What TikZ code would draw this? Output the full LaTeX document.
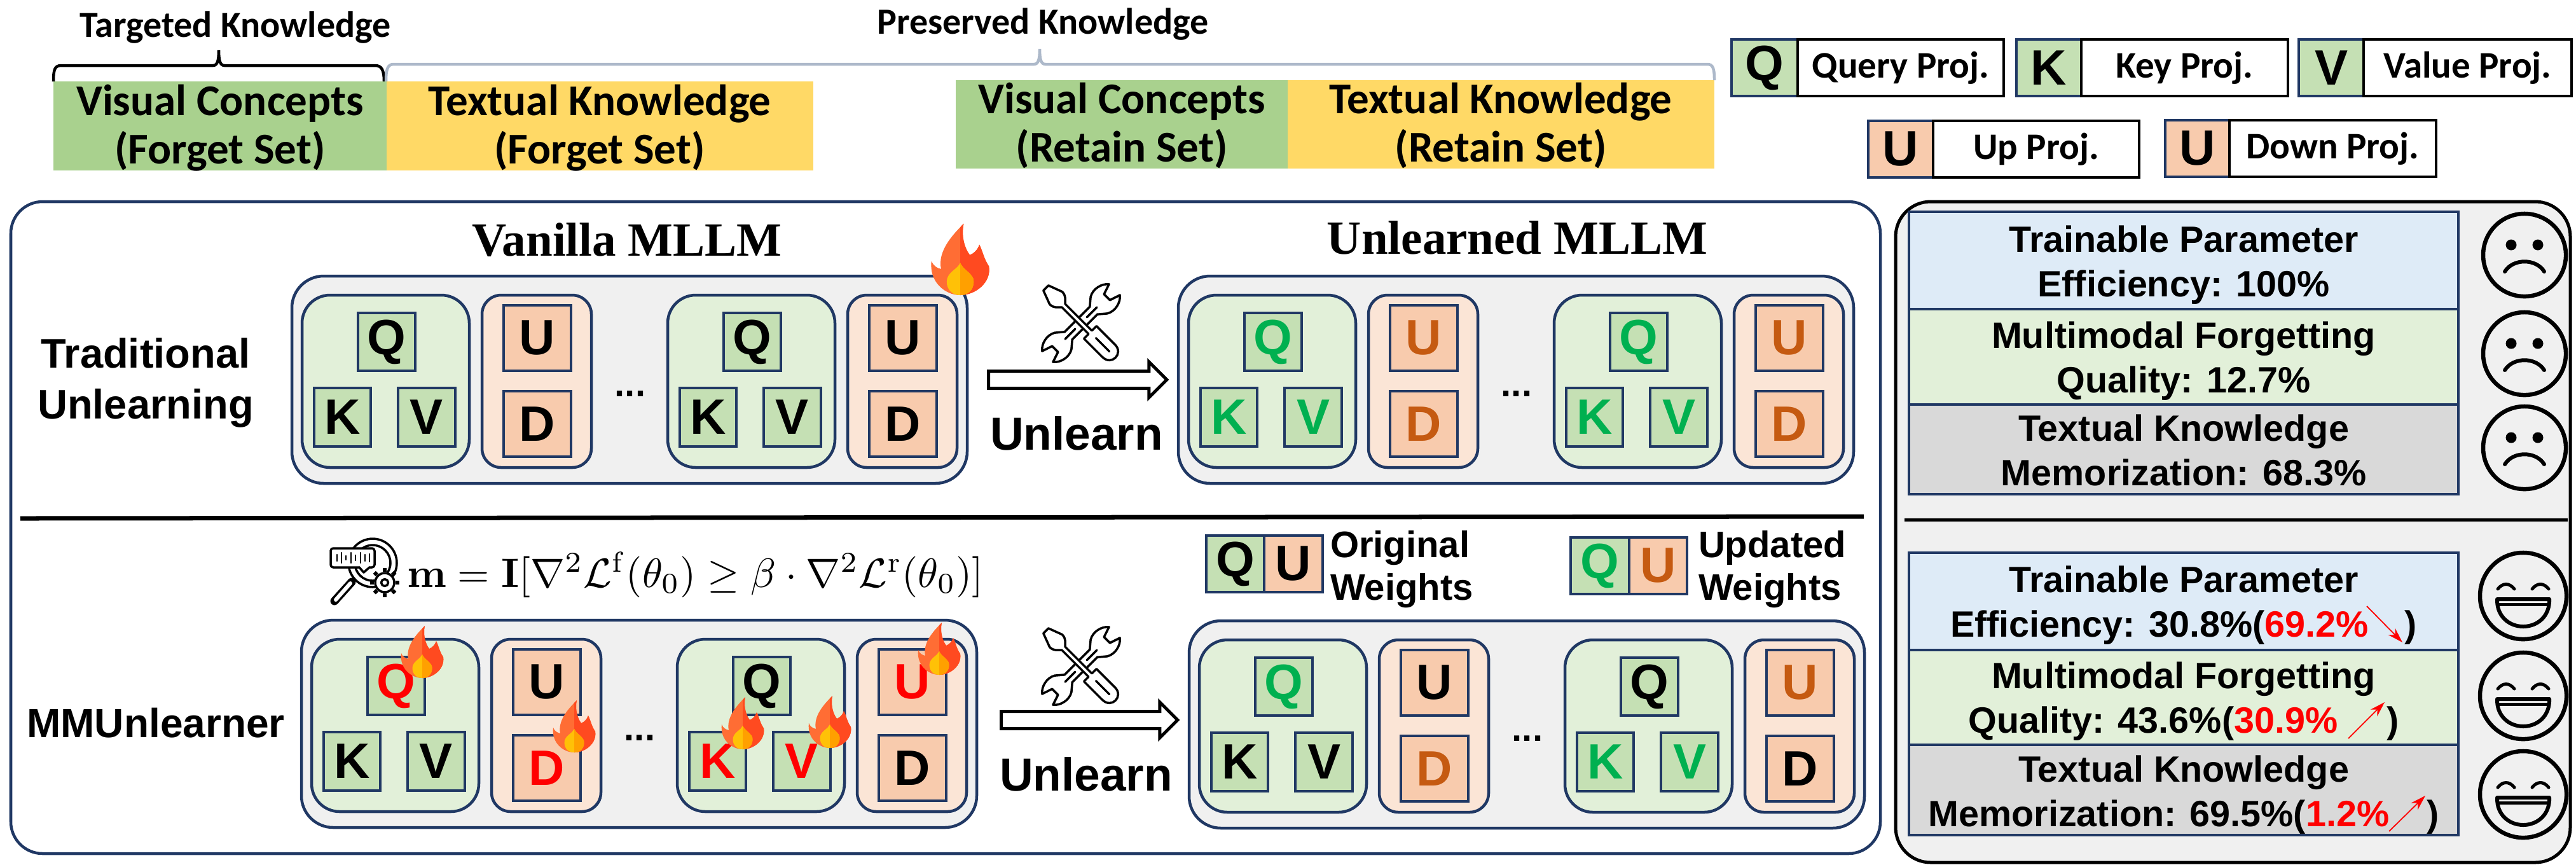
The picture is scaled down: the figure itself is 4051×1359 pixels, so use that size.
\documentclass[tikz,border=0pt]{standalone}
\usepackage[no-math]{fontspec}
\setmainfont{Liberation Sans}
\newfontfamily\calfont{Carlito}
\newfontfamily\serfont{Liberation Serif}
\usetikzlibrary{arrows.meta,shapes.arrows}
\definecolor{navy}{HTML}{203864}
\definecolor{gA}{HTML}{A9D18E}
\definecolor{yA}{HTML}{FFD966}
\definecolor{gB}{HTML}{C5E0B4}
\definecolor{gC}{HTML}{E2F0D9}
\definecolor{pB}{HTML}{F8CBAD}
\definecolor{pC}{HTML}{FBE5D6}
\definecolor{panel}{HTML}{F0F0F0}
\definecolor{blueC}{HTML}{DEEBF7}
\definecolor{greyC}{HTML}{D9D9D9}
\definecolor{braceB}{HTML}{ADB9CA}
\definecolor{okG}{HTML}{00B050}
\definecolor{okO}{HTML}{C55A11}
\definecolor{flA}{HTML}{FF6D34}
\definecolor{flB}{HTML}{FF4A20}
\definecolor{flC}{HTML}{FFC107}
\definecolor{flD}{HTML}{FFA000}
\newcommand\fpx[2]{\fontsize{\the\dimexpr#1pt*2845/10000\relax}{\the\dimexpr#2pt*2845/10000\relax}\selectfont}
% [style]{name}{x1}{y1}{x2}{y2}{text}
\newcommand\pxbox[7][]{\node[#1,minimum width={((#5)-(#3))*0.01cm},minimum height={((#6)-(#4))*0.01cm}] (#2) at ({((#3)+(#5))/2},{((#4)+(#6))/2}) {#7};}
% one block of a model: prefix, x0, y0, colours of Q K V U D
\newcommand\mblock[8]{%
  \pxbox[greenpane]{#1g}{#2+16}{#3+30}{#2+279}{#3+301}{}
  \pxbox[peachpane]{#1p}{#2+299}{#3+30}{#2+471}{#3+301}{}
  \pxbox[gbox,text=#4]{#1q}{#2+104}{#3+58}{#2+194}{#3+149}{Q}
  \pxbox[gbox,text=#5]{#1k}{#2+35}{#3+176}{#2+124}{#3+268}{K}
  \pxbox[gbox,text=#6]{#1v}{#2+167}{#3+176}{#2+257}{#3+268}{V}
  \pxbox[pbox,text=#7]{#1u}{#2+333}{#3+46}{#2+439}{#3+149}{U}
  \pxbox[pbox,text=#8]{#1d}{#2+333}{#3+181}{#2+439}{#3+284}{D}
}
\newcommand\mouter[3]{%
  \pxbox[outerbox]{#1}{#2}{#3}{#2+1062}{#3+326}{}
  \node[dotstxt] (#1dots) at ({#2+532},{#3+189}) {...};
}
% name, top, bottom, fill, midline between baselines, two lines
\newcommand\tbl[7]{%
  \pxbox[tblbox,fill=#4]{#1}{3002}{#2}{3866}{#3}{}
  \node[tbltext] (#1t) at (3434,{#5-14}) {\strut #6\\\strut #7};
}
\newcommand\sadface[3]{%
  \node[facering] (#1) at (#2,#3) {};
  \fill ({#2-21},{#3-16}) circle (8.5);
  \fill ({#2+21},{#3-16}) circle (8.5);
  \draw[line width=0.06cm,line cap=round] ({#2-31},{#3+26}) .. controls ({#2-18},{#3+5}) and ({#2+18},{#3+5}) .. ({#2+31},{#3+26});
}
\newcommand\happyface[3]{%
  \node[facering,minimum size=1.36cm] (#1) at (#2,#3) {};
  \draw[line width=0.05cm,line cap=round] ({#2-40},{#3-11}) .. controls ({#2-32},{#3-21}) and ({#2-22},{#3-21}) .. ({#2-14},{#3-11});
  \draw[line width=0.05cm,line cap=round] ({#2+14},{#3-11}) .. controls ({#2+22},{#3-21}) and ({#2+32},{#3-21}) .. ({#2+40},{#3-11});
  \draw[line width=0.06cm,line join=round] ({#2-41},{#3+5}) -- ({#2+41},{#3+5}) .. controls ({#2+42},{#3+32}) and ({#2+22},{#3+48}) .. ({#2},{#3+48}) .. controls ({#2-22},{#3+48}) and ({#2-42},{#3+32}) .. ({#2-41},{#3+5}) -- cycle;
  \draw[line width=0.05cm] ({#2-41},{#3+13}) -- ({#2+41},{#3+13});
}
\def\flamepath{(0,0) .. controls (-18,0) and (-36,-16) .. (-33,-39) .. controls (-31,-34) and (-27,-31) .. (-22,-30) .. controls (-26,-50) and (-10,-68) .. (4,-82) .. controls (1,-68) and (5,-54) .. (11,-46) .. controls (16,-48) and (20,-52) .. (22,-58) .. controls (26,-50) and (27,-42) .. (33,-33) .. controls (36,-15) and (18,0) .. (0,0) -- cycle}
\def\innerflame{(0,0) .. controls (-12,0) and (-17,-10) .. (-15,-19) .. controls (-12,-28) and (-3,-30) .. (0,-37) .. controls (3,-30) and (12,-26) .. (15,-19) .. controls (17,-10) and (12,0) .. (0,0) -- cycle}
\tikzset{
  px/.style={inner sep=0pt,outer sep=0pt},
  outerbox/.style={px,draw=navy,line width=0.045cm,fill=panel,rounded corners=0.5cm},
  greenpane/.style={px,draw=navy,line width=0.045cm,fill=gC,rounded corners=0.44cm},
  peachpane/.style={px,draw=navy,line width=0.045cm,fill=pC,rounded corners=0.3cm},
  letterfont/.style={font=\bfseries\fpx{78}{90}},
  gbox/.style={px,draw=navy,line width=0.045cm,fill=gB,letterfont},
  pbox/.style={px,draw=navy,line width=0.045cm,fill=pB,letterfont},
  whitebox/.style={px,draw=black,line width=0.045cm,fill=white,font=\calfont\bfseries\fpx{59}{70}},
  dotstxt/.style={px,anchor=base,font=\bfseries\fpx{58}{70}},
  bartext/.style={px,align=center,font=\calfont\bfseries\fpx{69}{71}},
  bar/.style={px},
  toptext/.style={px,anchor=base,font=\calfont\bfseries\fpx{58}{70}},
  title/.style={px,anchor=base,font=\serfont\bfseries\fpx{75}{80}},
  rowlabel/.style={px,align=center,font=\bfseries\fpx{65}{80}},
  unlearn/.style={px,anchor=base,font=\bfseries\fpx{73}{80}},
  legtext/.style={px,anchor=base west,font=\bfseries\fpx{58}{70}},
  tblbox/.style={px,draw=navy,line width=0.045cm},
  tbltext/.style={px,align=center,font=\bfseries\fpx{57.5}{70}},
  facering/.style={px,circle,draw=black,line width=0.065cm,minimum size=1.3cm},
  bigarrow/.style={px,single arrow,draw=black,fill=white,line width=0.05cm,inner sep=0.11cm,
     single arrow head extend=0.145cm,minimum width=0.51cm},
  redarrow/.style={red,line width=0.018cm,-{Stealth[length=0.24cm,width=0.15cm]}},
  flame/.pic={
    \fill[flA] \flamepath;
    \begin{scope}\clip (0,5) rectangle (60,-90); \fill[flB] \flamepath; \end{scope}
    \fill[flC] \innerflame;
    \begin{scope}\clip (0,5) rectangle (30,-40); \fill[flD] \innerflame; \end{scope}
  },
  tools/.pic={
    \begin{scope}[rotate=45,line width=0.035cm,line join=round,line cap=round]
      \draw[fill=white] (-30,-9) -- (30,-9) -- (43,-20) .. controls (55,-27) and (72,-23) .. (80,-13) -- (62,-7) -- (62,7) -- (80,13) .. controls (72,23) and (55,27) .. (43,20) -- (30,9) -- (-30,9) -- (-43,20) .. controls (-55,27) and (-72,23) .. (-80,13) -- (-62,7) -- (-62,-7) -- (-80,-13) .. controls (-72,-23) and (-55,-27) .. (-43,-20) -- cycle;
      \draw (-38,0) -- (-14,0) (14,0) -- (38,0);
    \end{scope}
    \begin{scope}[rotate=-45,line width=0.035cm,line join=round,line cap=round]
      \draw[fill=white] (-84,-6) -- (-84,6) -- (-60,15) .. controls (-50,15) and (-46,8) .. (-42,4) -- (22,4) -- (22,15) -- (66,15) .. controls (88,15) and (88,-15) .. (66,-15) -- (22,-15) -- (22,-4) -- (-42,-4) .. controls (-46,-8) and (-50,-15) .. (-60,-15) -- cycle;
      \draw (36,0) -- (68,0);
    \end{scope}
  },
}
\begin{document}
\begin{tikzpicture}[x=0.01cm,y=-0.01cm]
\useasboundingbox (0,0) rectangle (4051,1359);
\fill[white] (0,0) rectangle (4051,1359);

% top bars
\pxbox[bar,fill=gA]{vf}{84}{128}{608}{268}{}
\pxbox[bar,fill=yA]{tf}{608}{128}{1279}{268}{}
\pxbox[bar,fill=gA]{vr}{1503}{126}{2025}{265}{}
\pxbox[bar,fill=yA]{tr}{2025}{126}{2696}{265}{}
\node[bartext] (vft) at (346,205) {\strut Visual Concepts\\\strut (Forget Set)};
\node[bartext] (tft) at (943,205) {\strut Textual Knowledge\\\strut (Forget Set)};
\node[bartext] (vrt) at (1764,202) {\strut Visual Concepts\\\strut (Retain Set)};
\node[bartext] (trt) at (2360,202) {\strut Textual Knowledge\\\strut (Retain Set)};

% braces
\draw[line width=0.045cm] (84,128) .. controls (84,110) and (86,103) .. (96,103) -- (335,103) .. controls (342,103) and (344,95) .. (344,79) .. controls (344,95) and (346,103) .. (353,103) -- (590,103) .. controls (600,103) and (604,110) .. (604,128);
\draw[braceB,line width=0.045cm] (607,128) .. controls (607,110) and (609,101) .. (619,101) -- (1626,101) .. controls (1633,101) and (1635,93) .. (1635,77) .. controls (1635,93) and (1637,101) .. (1644,101) -- (2685,101) .. controls (2694,101) and (2696,108) .. (2696,126);
\node[toptext] (tk) at (370,58) {Targeted Knowledge};
\node[toptext] (pk) at (1640,53) {Preserved Knowledge};

% legend
\pxbox[gbox]{lq}{2723}{62}{2827}{151}{Q}
\pxbox[whitebox]{lqt}{2827}{62}{3151}{151}{Query Proj.}
\pxbox[gbox]{lk}{3171}{62}{3273}{151}{K}
\pxbox[whitebox]{lkt}{3273}{62}{3598}{151}{Key Proj.}
\pxbox[gbox]{lv}{3615}{62}{3717}{151}{V}
\pxbox[whitebox]{lvt}{3717}{62}{4044}{151}{Value Proj.}
\pxbox[pbox]{lu}{2938}{190}{3040}{279}{U}
\pxbox[whitebox]{lut}{3040}{190}{3364}{279}{Up Proj.}
\pxbox[pbox]{ld}{3405}{189}{3506}{278}{U}
\pxbox[whitebox]{ldt}{3506}{189}{3831}{278}{Down Proj.}

% panels
\pxbox[px,draw=navy,line width=0.045cm,fill=white,rounded corners=0.5cm]{leftpanel}{17}{317}{2957}{1342}{}
\pxbox[px,draw=black,line width=0.05cm,fill=panel,rounded corners=0.55cm]{rightpanel}{2981}{317}{4042}{1356}{}
\coordinate (ldl) at (32,815);
\coordinate (ldr) at (2931,812);
\draw[line width=0.07cm] (ldl) -- (ldr);
\coordinate (rdl) at (2995,817);
\coordinate (rdr) at (4038,817);
\draw[line width=0.05cm] (rdl) -- (rdr);

% titles and row labels
\node[title] (vanilla) at (986,402) {Vanilla MLLM};
\node[title] (unlearned) at (2386,399) {Unlearned MLLM};
\node[rowlabel] (trad) at (229,602) {\strut Traditional\\\strut Unlearning};
\node[rowlabel,anchor=center,font=\bfseries\fpx{64}{80}] (mmu) at (245,1137) {MMUnlearner};

% models
\mouter{ta}{459}{434}
\mblock{taa}{459}{434}{black}{black}{black}{black}{black}
\mblock{tab}{1034}{434}{black}{black}{black}{black}{black}
\mouter{tb}{1853}{434}
\mblock{tba}{1853}{434}{okG}{okG}{okG}{okO}{okO}
\mblock{tbb}{2428}{434}{okG}{okG}{okG}{okO}{okO}
\mouter{ba}{474}{975}
\mblock{baa}{474}{975}{red}{black}{black}{black}{red}
\mblock{bab}{1049}{975}{black}{red}{red}{red}{black}
\mouter{bb}{1870}{976}
\mblock{bba}{1870}{976}{okG}{black}{black}{black}{okO}
\mblock{bbb}{2445}{976}{black}{okG}{okG}{okO}{black}

% unlearn arrows
\node[bigarrow,minimum height=2.8cm] (a1) at (1688,597) {};
\node[bigarrow,minimum height=2.77cm] (a2) at (1706.5,1132) {};
\node[unlearn] (ul1) at (1693,707) {Unlearn};
\node[unlearn] (ul2) at (1708,1243) {Unlearn};
\pic[scale=0.93] (t1) at (1700,508) {tools};
\pic[scale=0.93] (t2) at (1700,1047) {tools};

% formula and icon
\begin{scope}[line width=0.035cm,line join=round,line cap=round]
  \draw (586,885) circle (38);
  \draw (586,885) circle (28);
  \draw[line width=0.13cm] (553,915) -- (526,945);
  \draw[white,line width=0.06cm] (551,917) -- (528,943);
  \draw[fill=white,rounded corners=0.04cm] (520,862) rectangle (589,892);
  \fill[white] (566,890) rectangle (580,896);
  \draw (565,892) -- (572,900) -- (581,892);
  \foreach \xx/\hh in {530/5,537/8,544/3,552/8,559/4,567/8,574/5,581/6}
    \draw[line width=0.025cm] (\xx,{877-\hh}) -- (\xx,{877+\hh});
  \foreach \aa in {0,45,...,315}
    \draw[line width=0.06cm,line cap=butt] (605,916) ++(\aa:17) -- ++(\aa:6);
  \draw[fill=white] (605,916) circle (15);
  \draw (605,916) circle (5.5);
\end{scope}
\node[px,anchor=base west,scale=1.84] (formula) at (640,923) {$\mathbf{m}=\mathbf{I}[\nabla^2\mathcal{L}^{\mathrm{f}}(\theta_0)\geq\beta\cdot\nabla^2\mathcal{L}^{\mathrm{r}}(\theta_0)]$};

% weights legend
\pxbox[gbox]{oq}{1897}{842}{1988}{931}{Q}
\pxbox[pbox]{ou}{1988}{842}{2080}{931}{U}
\node[legtext] (ot1) at (2092,876) {Original};
\node[legtext] (ot2) at (2092,943) {Weights};
\pxbox[gbox,text=okG]{uq}{2470}{845}{2562}{934}{Q}
\pxbox[pbox,text=okO]{uu}{2562}{845}{2653}{934}{U}
\node[legtext] (ut1) at (2671,876) {Updated};
\node[legtext] (ut2) at (2671,943) {Weights};

% flames
\pic[scale=1.37] (f0) at (1510,464) {flame};
\pic (f1) at (664,1066) {flame};
\pic (f2) at (903,1183) {flame};
\pic (f3) at (1168,1178) {flame};
\pic (f4) at (1305,1176) {flame};
\pic (f5) at (1477,1061) {flame};

% result tables
\tbl{r1}{333}{486}{blueC}{431}{Trainable Parameter}{Efficiency: 100\%}
\tbl{r2}{486}{636}{gC}{582}{Multimodal Forgetting}{Quality: 12.7\%}
\tbl{r3}{636}{777}{greyC}{728}{Textual Knowledge}{Memorization: 68.3\%}
\tbl{s1}{869}{1022}{blueC}{966}{Trainable Parameter}{Efficiency: 30.8\%(\textcolor{red}{69.2\%}\hspace{0.57cm})}
\tbl{s2}{1022}{1171}{gC}{1117}{Multimodal Forgetting}{Quality: 43.6\%(\textcolor{red}{30.9\%}\hspace{0.77cm})}
\tbl{s3}{1171}{1313}{greyC}{1264}{Textual Knowledge}{Memorization: 69.5\%(\textcolor{red}{1.2\%}\hspace{0.59cm})}
\coordinate (ar1s) at (3722,953); \coordinate (ar1e) at (3778,1010);
\coordinate (ar2s) at (3693,1161); \coordinate (ar2e) at (3750,1104);
\coordinate (ar3s) at (3757,1307); \coordinate (ar3e) at (3814,1251);
\draw[redarrow] (ar1s) -- (ar1e);
\draw[redarrow] (ar2s) -- (ar2e);
\draw[redarrow] (ar3s) -- (ar3e);

% faces
\sadface{fa}{3970}{401}
\sadface{fb}{3970}{556}
\sadface{fc}{3970}{704}
\happyface{fd}{3968}{937}
\happyface{fe}{3968}{1094}
\happyface{ff}{3968}{1249}
\end{tikzpicture}
\end{document}
